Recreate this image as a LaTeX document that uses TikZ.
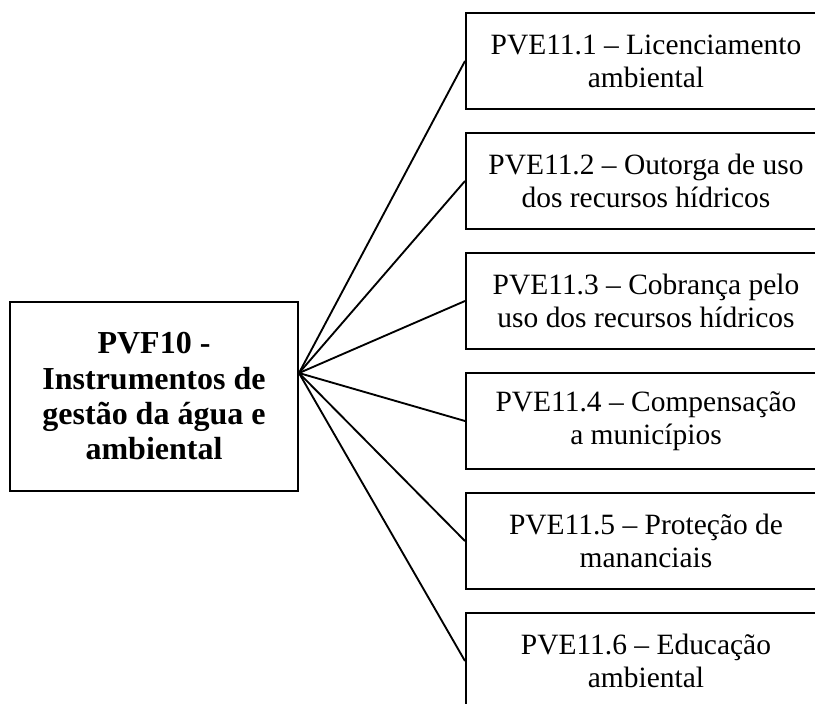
\documentclass[tikz,border=0pt]{standalone}
\usepackage{fontspec}
\setmainfont{Liberation Serif}
\begin{document}
\begin{tikzpicture}[x=0.75pt,y=-0.75pt,
  rbox/.style={draw,line width=1.5pt,rectangle,minimum width=270pt,minimum height=72pt,inner sep=0pt,align=center,
    font=\fontsize{22.1pt}{24.75pt}\selectfont},
  lbox/.style={draw,line width=1.5pt,rectangle,minimum width=216pt,minimum height=141.75pt,inner sep=0pt,align=center,
    font=\fontsize{24pt}{26.5pt}\selectfont\bfseries},
  conn/.style={line width=1.4pt}]
\clip (0,0) rectangle (815,704);
\fill[white] (0,0) rectangle (815,704);
\node[lbox] (L) at (154,396.5) {PVF10 -\\Instrumentos de\\gestão da água e\\ambiental};
\coordinate (hub) at ([yshift=17.6pt]L.east);
\node[rbox] (b1) at (646,61) {PVE11.1 – Licenciamento\\ambiental};
\node[rbox] (b2) at (646,181) {PVE11.2 – Outorga de uso\\dos recursos hídricos};
\node[rbox] (b3) at (646,301) {PVE11.3 – Cobrança pelo\\uso dos recursos hídricos};
\node[rbox] (b4) at (646,421) {PVE11.4 – Compensação\\a municípios};
\node[rbox] (b5) at (646,541) {PVE11.5 – Proteção de\\mananciais};
\node[rbox] (b6) at (646,661) {PVE11.6 – Educação\\ambiental};
\foreach \b in {b1,b2,b3,b4,b5,b6}
  \draw[conn] (hub) -- (\b.west);
\end{tikzpicture}
\end{document}
